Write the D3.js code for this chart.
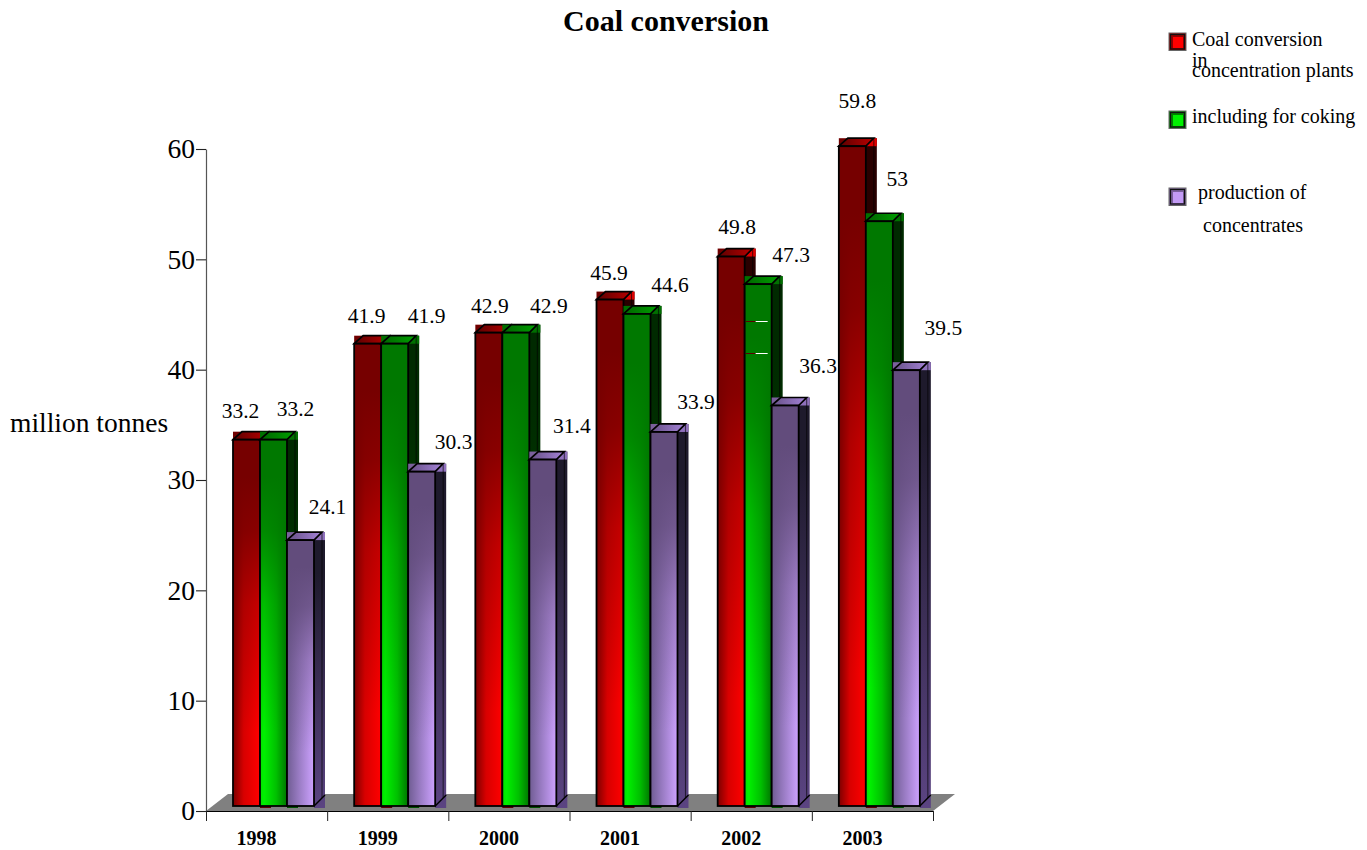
<!DOCTYPE html>
<html>
<head>
<meta charset="utf-8">
<title>Coal conversion</title>
<script src="https://cdn.jsdelivr.net/npm/d3@7/dist/d3.min.js"></script>
<style>
  html, body { margin: 0; padding: 0; background: #fff; }
  svg { display: block; font-family: "Liberation Serif", "Times New Roman", serif; }
</style>
</head>
<body>
<svg id="chart" width="1367" height="850"></svg>
<script>
// Values in million tonnes, one array per series
const years = ["1998", "1999", "2000", "2001", "2002", "2003"];
const coalConversion = [33.2, 41.9, 42.9, 45.9, 49.8, 59.8];
const forCoking = [33.2, 41.9, 42.9, 44.6, 47.3, 53];
const concentrates = [24.1, 30.3, 31.4, 33.9, 36.3, 39.5];
const yTicks = [0, 10, 20, 30, 40, 50, 60];

// Per-label offsets from the bar's top centre, keeping labels clear of neighbours
const nudgeCoal = [[-6, -22], [-1, -21], [1, -20], [-1, -20], [6, -23], [5, -38]];
const nudgeCoking = [[22, -24], [32, -21], [33, -20], [33, -22], [33, -22], [18, -35]];
const nudgeConc = [[27, -26], [32, -23], [29, -27], [32, -23], [33, -32], [37, -35]];

// Two short rule remnants crossing the 2002 coking bar, at these values
const notchValues = [44.0, 41.1];

const palette = [
  { id: "red", h: ["#7c0000", "#d80000", "#ff0000"], hOff: [0, 0.4, 1], top: "#760000", inner: "#ff0000", outer: "#900000",
    sideTop: "#290000", sideBottom: "#5a0000", capA: "#5c0000", capB: "#b80000", cornerA: "#700000", cornerB: "#e00000" },
  { id: "green", h: ["#00e000", "#00f000", "#00c000", "#007600"], hOff: [0, 0.15, 0.6, 1], top: "#007800", inner: "#00f000", outer: "#008000",
    sideTop: "#002a00", sideBottom: "#005000", capA: "#006400", capB: "#00a000", cornerA: "#007000", cornerB: "#007000" },
  { id: "purple", h: ["#6f5c92", "#9a7cc4", "#cda2ff"], hOff: [0, 0.45, 1], top: "#624c7c", inner: "#c39bf5", outer: "#7a609c",
    sideTop: "#1e1a2c", sideBottom: "#5b4482", capA: "#654f85", capB: "#a583d8", cornerA: "#7a609c", cornerB: "#8f70bc" }
];
const seriesValues = [coalConversion, forCoking, concentrates];
const seriesNudges = [nudgeCoal, nudgeCoking, nudgeConc];

const svg = d3.select("#chart");
const defs = svg.append("defs");

const left = 206, right = 933, axisY = 811, axisTop = 149;
const depthX = 11, depthY = 8, floorDX = 22, floorDY = 17;
const barLift = 5, groupInset = 27, barWidth = 27;

const y = d3.scaleLinear().domain([0, 60]).range([axisY, axisTop]);
const x = d3.scaleBand().domain(years).range([left, right]);
const inner = d3.scaleBand().domain(d3.range(3)).range([0, barWidth * 3]);
const boundary = d3.scaleLinear().domain([0, years.length]).range([left, right]);

// Gradient definitions for each series: lateral sheen, darkening toward the top, side and cap
palette.forEach(p => {
  const h = defs.append("linearGradient").attr("id", p.id + "-h");
  p.h.forEach((c, i) => h.append("stop").attr("offset", p.hOff[i]).attr("stop-color", c));

  const v = defs.append("linearGradient").attr("id", p.id + "-v")
    .attr("x1", 0).attr("y1", 0).attr("x2", 0).attr("y2", 1);
  [[0.1, 1], [0.25, 0.85], [0.45, 0.42], [0.8, 0]].forEach(([o, a]) =>
    v.append("stop").attr("offset", o).attr("stop-color", p.top).attr("stop-opacity", a));

  const s = defs.append("linearGradient").attr("id", p.id + "-s")
    .attr("x1", 0).attr("y1", 0).attr("x2", 0).attr("y2", 1);
  s.append("stop").attr("offset", 0.15).attr("stop-color", p.sideTop);
  s.append("stop").attr("offset", 1).attr("stop-color", p.sideBottom);

  const c = defs.append("linearGradient").attr("id", p.id + "-c");
  c.append("stop").attr("offset", 0).attr("stop-color", p.capA);
  c.append("stop").attr("offset", 1).attr("stop-color", p.capB);
});

// Title and axis caption
svg.append("text").attr("x", 666).attr("y", 31).attr("text-anchor", "middle")
  .attr("font-size", 30).attr("font-weight", "bold").text("Coal conversion");
svg.append("text").attr("x", 10).attr("y", 432).attr("font-size", 27.5).text("million tonnes");

// Chart floor
const floorPts = [[left, axisY], [right, axisY], [right + floorDX, axisY - floorDY], [left + floorDX, axisY - floorDY]];
svg.append("polygon").attr("points", floorPts.join(" ")).attr("fill", "#808080");

// Bars: side panel first, then cap and front, series by series within each year
const barY = v => y(v) - barLift;
const base = barY(0);

years.forEach((year, yi) => {
  const g = svg.append("g").attr("class", "year-" + year);
  palette.forEach((p, si) => {
    const v = seriesValues[si][yi];
    const bx = x(year) + groupInset + inner(si);
    const bw = inner.bandwidth();
    const top = barY(v);

    // side face runs a little past the base line
    g.append("rect").attr("x", bx + bw).attr("y", top - depthY)
      .attr("width", depthX).attr("height", base + 2 - top + depthY)
      .attr("fill", `url(#${p.id}-s)`);

    // corners of the cap's bounding box
    g.append("rect").attr("x", bx).attr("y", top - depthY).attr("width", bw / 2 + depthX / 2).attr("height", depthY)
      .attr("fill", p.cornerA);
    g.append("rect").attr("x", bx + bw / 2 + depthX / 2).attr("y", top - depthY).attr("width", bw / 2 + depthX / 2).attr("height", depthY)
      .attr("fill", p.cornerB);

    // cap
    g.append("polygon")
      .attr("points", [[bx, top], [bx + depthX - 2, top - depthY], [bx + bw + depthX - 3, top - depthY], [bx + bw, top]].join(" "))
      .attr("fill", `url(#${p.id}-c)`).attr("stroke", "#000").attr("stroke-width", 1.7);

    // front face: sheen with a darkening wash on top
    g.append("rect").attr("x", bx).attr("y", top).attr("width", bw).attr("height", base - top)
      .attr("fill", `url(#${p.id}-h)`);
    g.append("rect").attr("x", bx).attr("y", top).attr("width", bw).attr("height", base - top)
      .attr("fill", `url(#${p.id}-v)`).attr("stroke", "#000").attr("stroke-width", 1.8);

    // lower edge of the side panel
    g.append("line").attr("x1", bx + bw).attr("y1", base).attr("x2", bx + bw + depthX).attr("y2", base - depthY - 3)
      .attr("stroke", "#000").attr("stroke-width", 1.4);
    g.append("line").attr("x1", bx + bw + depthX - 3).attr("y1", top - depthY + 1).attr("x2", bx + bw + depthX - 3).attr("y2", base - depthY)
      .attr("stroke", "#000").attr("stroke-opacity", 0.6).attr("stroke-width", 1.1);
  });
});

// Short remnants on the 2002 coking bar
const notchX = x("2002") + groupInset + inner(1);
notchValues.forEach(v => {
  const ny = Math.round(barY(v)) + 0.5;
  svg.append("line").attr("x1", notchX + 1).attr("x2", notchX + 11).attr("y1", ny).attr("y2", ny).attr("stroke", "#5a0000");
  svg.append("line").attr("x1", notchX + 11).attr("x2", notchX + 23).attr("y1", ny).attr("y2", ny).attr("stroke", "#fff");
});

// Value labels
seriesValues.forEach((vals, si) => {
  svg.append("g").selectAll("text").data(vals).join("text")
    .attr("x", (d, i) => x(years[i]) + groupInset + inner(si) + inner.bandwidth() / 2 + seriesNudges[si][i][0])
    .attr("y", (d, i) => barY(d) + seriesNudges[si][i][1])
    .attr("text-anchor", "middle").attr("font-size", 21.5).attr("fill", "#000")
    .text(d => d);
});

// Axes
const yAxis = d3.axisLeft(y).tickValues(yTicks).tickSize(10).tickSizeOuter(0).tickPadding(1);
const yG = svg.append("g").attr("transform", `translate(${left},0)`).call(yAxis)
  .attr("font-family", null);
yG.selectAll("text").attr("font-size", 27.5).attr("fill", "#000");
yG.select(".domain").attr("stroke", "#555").attr("stroke-width", 1.2);
yG.selectAll(".tick line").attr("stroke", "#222").attr("stroke-width", 1.1);

const xAxis = d3.axisBottom(boundary).tickValues(d3.range(years.length + 1)).tickSize(10).tickSizeOuter(0).tickFormat("");
const xG = svg.append("g").attr("transform", `translate(0,${axisY})`).call(xAxis);
xG.select(".domain").attr("stroke", "#000").attr("stroke-width", 1.2);
xG.selectAll(".tick line").attr("stroke", "#222").attr("stroke-width", 1);

// Year labels sit slightly left of each band's centre
svg.append("g").selectAll("text").data(years).join("text")
  .attr("x", d => x(d) + x.bandwidth() / 2 - 10)
  .attr("y", 845).attr("text-anchor", "middle")
  .attr("font-size", 20).attr("font-weight", "bold").attr("fill", "#000").text(d => d);

// Legend: bevelled swatches with overprinted wrapped labels
const legendEntries = [
  { p: palette[0], sy: 33, lines: [["Coal conversion", 1192, 46], ["in", 1192, 67], ["concentration plants", 1192, 77]] },
  { p: palette[1], sy: 111, lines: [["including for coking", 1192, 123]] },
  { p: palette[2], sy: 188, lines: [["production of", 1198, 199], ["concentrates", 1203, 232]] }
];
legendEntries.forEach(e => {
  const g = svg.append("g");
  g.append("rect").attr("x", 1169).attr("y", e.sy).attr("width", 17).attr("height", 17.5)
    .attr("fill", e.p.outer).attr("stroke", "#666").attr("stroke-width", 1);
  g.append("rect").attr("x", 1173).attr("y", e.sy + 4).attr("width", 10).attr("height", 11)
    .attr("fill", e.p.inner);
  g.append("rect").attr("x", 1170.5).attr("y", e.sy + 1.5).attr("width", 14).attr("height", 14.5)
    .attr("fill", "none").attr("stroke", "#111").attr("stroke-width", 1.2);
  e.lines.forEach(([t, tx, ty]) =>
    g.append("text").attr("x", tx).attr("y", ty).attr("font-size", 20).attr("fill", "#000").text(t));
});
</script>
</body>
</html>
